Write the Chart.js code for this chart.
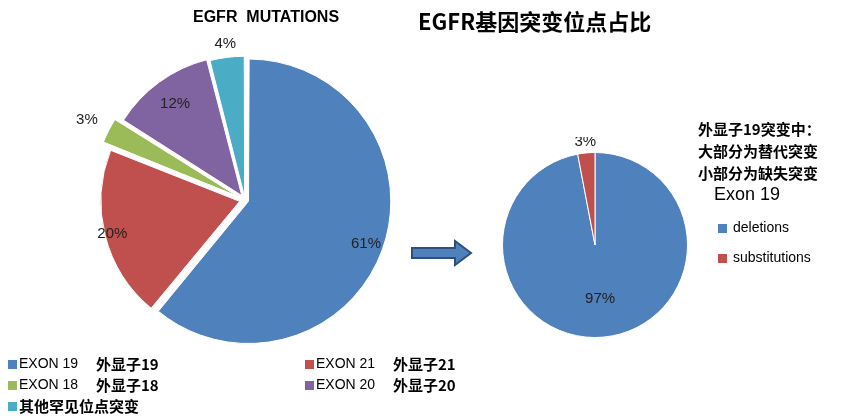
<!DOCTYPE html>
<html><head><meta charset="utf-8">
<script src="https://cdn.jsdelivr.net/npm/chart.js@4"></script>
<style>
body{margin:0;width:850px;height:419px;background:#fff;position:relative;overflow:hidden;font-family:"Liberation Sans",Arial,sans-serif;}
.a{position:absolute;white-space:nowrap;}
.b{font-weight:bold;font-family:"Noto Sans CJK SC","Liberation Sans",sans-serif;}
.sq{position:absolute;width:9px;height:9px;}
canvas{position:absolute;}
</style></head><body>
<div style="position:absolute;left:65px;top:20px;width:360px;height:360px;"><canvas id="c1"></canvas></div>
<div style="position:absolute;left:487px;top:137px;width:216px;height:216px;"><canvas id="c2"></canvas></div>
<div class="a b" style="left:193px;top:8px;font-size:16px;font-family:'Liberation Sans',Arial;">EGFR&nbsp; MUTATIONS</div>
<div class="a b" style="left:418px;top:4px;font-size:22px;">EGFR基因突变位点占比</div>
<svg class="a" style="left:405px;top:238px" width="70" height="32"><polygon points="7,10 50,10 50,3 66,15 50,27 50,20 7,20" fill="#4F81BD" stroke="#2F4F7F" stroke-width="2"/></svg>
<div class="a b" style="left:698px;top:118px;font-size:15px;line-height:22px;">外显子19突变中：<br>大部分为替代突变<br>小部分为缺失突变</div>
<div class="a" style="left:714px;top:184px;font-size:18px;">Exon 19</div>
<div class="sq" style="left:718px;top:224px;background:#4F81BD"></div><div class="a" style="left:733px;top:219px;font-size:14px;">deletions</div>
<div class="sq" style="left:718px;top:254px;background:#C0504D"></div><div class="a" style="left:733px;top:249px;font-size:14px;">substitutions</div>
<div id="leg"></div>
<script>
const categories=["EXON 19","EXON 21","EXON 18","EXON 20","其他罕见位点突变"];
const cnNames=["外显子19","外显子21","外显子18","外显子20",""];
const mutationValues=[61,20,3,12,4];
const exon19Categories=["deletions","substitutions"];
const exon19Values=[97,3];
const colors=["#4F81BD","#C0504D","#9BBB59","#8064A2","#4BACC6"];
const leg=document.getElementById('leg');
const pos=[[8,355],[305,355],[8,376],[305,376],[8,397]];
categories.forEach((c,i)=>{const [x,y]=pos[i];
 leg.innerHTML+=`<div class="sq" style="left:${x}px;top:${y+5}px;background:${colors[i]}"></div>`;
 if(i<4){leg.innerHTML+=`<div class="a" style="left:${x+11}px;top:${y}px;font-size:14px;">${c}</div><div class="a b" style="left:${x+88}px;top:${y-2}px;font-size:15px;">${cnNames[i]}</div>`;}
 else leg.innerHTML+=`<div class="a b" style="left:${x+11}px;top:${y-2}px;font-size:15px;">${c}</div>`;
});
const lbl={id:'lbl',afterDatasetsDraw(ch){const ctx=ch.ctx;const f=ch.options.plugins.lbl.f;
 ch.getDatasetMeta(0).data.forEach((a,i)=>{const m=(a.startAngle+a.endAngle)/2;const off=a.options.offset||0;
 const r=a.outerRadius*f[i]+off;ctx.save();ctx.font='15px "Liberation Sans",Arial';ctx.fillStyle='#222';ctx.textAlign='center';ctx.textBaseline='middle';
 ctx.fillText(ch.data.datasets[0].data[i]+'%',a.x+Math.cos(m)*r,a.y+Math.sin(m)*r);ctx.restore();});}};
const base={responsive:true,maintainAspectRatio:false,animation:false,plugins:{legend:{display:false},tooltip:{enabled:false}}};
new Chart(document.getElementById('c1'),{type:'pie',data:{labels:categories,datasets:[{data:mutationValues,backgroundColor:colors,borderColor:'#fff',borderWidth:1,offset:[15,22,32,22,12]}]},
 options:{...base,layout:{padding:25},plugins:{...base.plugins,lbl:{f:[0.82,0.83,1.05,0.7,1.05]}}},plugins:[lbl]});
new Chart(document.getElementById('c2'),{type:'pie',data:{labels:exon19Categories,datasets:[{data:exon19Values,backgroundColor:colors.slice(0,2),borderColor:'#fff',borderWidth:1}]},
 options:{...base,layout:{padding:15},plugins:{...base.plugins,lbl:{f:[0.58,1.12]}}},plugins:[lbl]});
</script></body></html>
